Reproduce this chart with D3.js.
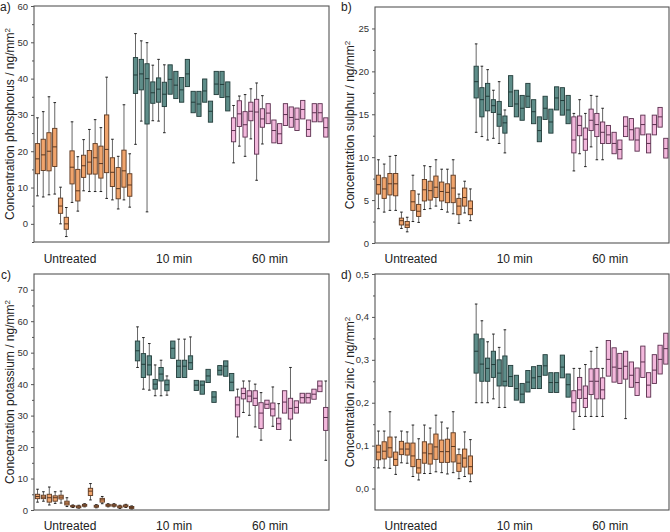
<!DOCTYPE html>
<html>
<head>
<meta charset="utf-8">
<script src="https://cdn.jsdelivr.net/npm/d3@7"></script>
<style>
  body { margin: 0; background: #fff; }
  svg { display: block; font-family: "Liberation Sans", Arial, sans-serif; }
</style>
</head>
<body>
<div class="chart"></div>
<script>
// grupos de tratamiento
var groups = ["Untreated", "10 min", "60 min"];

// a) fósforo (ng/mm2)
var aSizes = [17, 17, 17];
var aQ3 = [22.1,23.3,25.1,26.3,7.1,1.8,20.1,15.0,18.9,20.2,22.1,21.4,30.0,18.2,15.5,20.3,13.8,
  45.8,45.3,44.1,39.1,40.2,39.0,43.8,42.0,40.3,45.3,36.5,36.5,39.9,33.8,42.0,42.0,39.1,
  29.2,33.9,30.9,33.5,34.3,31.7,33.1,28.6,27.6,33.1,32.2,31.9,34.0,28.6,33.1,33.1,29.2];
var aMed = [17.9,19.0,20.0,21.2,4.9,0.0,15.6,9.1,16.0,17.0,18.2,16.6,20.5,14.2,9.7,14.6,10.7,
  41.0,41.3,40.0,36.1,37.1,35.7,39.8,38.2,36.9,41.3,33.5,33.0,36.6,31.0,38.5,38.4,35.0,
  25.7,30.3,27.3,31.0,30.8,28.9,30.5,25.7,24.8,30.1,29.3,28.8,31.5,26.0,30.6,30.6,26.5];
var aQ1 = [13.8,14.7,14.6,15.8,2.9,-1.5,11.0,6.3,12.8,13.7,13.7,12.6,14.1,10.3,6.9,10.1,7.6,
  35.9,36.9,27.5,33.2,33.5,32.3,35.7,34.5,33.5,37.8,30.6,29.6,33.5,28.0,35.6,34.8,31.1,
  22.6,26.8,23.9,28.4,19.2,26.6,27.6,22.3,22.1,27.1,26.6,25.7,28.9,24.1,28.1,28.1,23.9];
var aHi = [29.2,30.9,35.0,33.4,10.1,4.5,28.1,18.5,23.2,26.0,28.7,26.5,40.4,23.3,18.6,32.8,19.3,
  52.4,50.4,49.9,43.7,45.3,43.8,null,null,null,null,null,null,null,null,null,null,null,
  32.6,35.2,35.6,37.2,38.8,35.3,null,null,null,null,null,null,null,null,null,null,null];
var aLo = [7.7,7.4,8.0,8.2,0.0,-3.5,5.9,3.5,9.1,8.9,8.9,8.9,7.0,6.6,4.1,6.6,4.6,
  21.9,28.3,3.3,28.4,28.3,25.1,null,null,null,null,null,null,null,null,null,null,null,
  16.8,21.4,18.6,23.4,12.0,22.0,null,null,null,null,null,null,null,null,null,null,null];

// b) azufre (ng/mm2)
var bSizes = [17, 17, 17];
var bQ3 = [7.9,7.6,8.1,8.1,2.9,2.5,6.1,4.5,7.4,7.2,7.8,7.1,6.9,7.9,5.2,6.4,4.9,
  20.6,18.1,18.6,16.7,16.5,14.8,19.5,17.8,17.2,18.6,16.7,14.7,17.1,15.6,18.2,18.1,17.2,
  14.7,14.8,13.4,15.6,15.1,14.1,13.7,12.9,12.0,14.7,14.5,13.4,14.9,12.7,14.9,15.8,12.2];
var bMed = [6.8,6.3,6.9,6.9,2.6,2.1,4.8,3.7,6.2,6.1,6.5,6.0,5.9,6.4,4.3,5.3,4.0,
  18.8,16.7,17.1,16.0,15.0,14.0,17.6,16.2,15.7,17.1,15.3,13.1,15.7,14.1,16.9,16.6,15.5,
  12.0,13.7,12.1,14.3,13.8,12.9,12.6,11.6,10.9,13.6,13.2,12.0,13.8,11.6,13.8,14.7,11.0];
var bQ1 = [5.7,5.2,5.6,5.5,2.1,1.8,3.8,3.1,4.9,5.0,5.3,4.9,4.7,4.7,3.3,4.3,3.3,
  16.9,14.7,15.4,15.2,13.6,12.8,15.9,14.7,14.3,15.8,13.9,11.8,14.4,12.8,15.5,14.9,13.9,
  10.5,12.5,10.8,13.1,12.4,11.6,11.6,10.4,9.8,12.4,12.0,10.7,12.6,10.5,12.6,13.5,9.9];
var bHi = [9.7,9.2,10.1,10.2,3.6,3.0,7.9,5.7,9.0,8.9,9.7,8.6,8.6,9.7,5.7,7.2,6.3,
  23.2,20.6,20.2,17.8,18.8,15.5,null,null,null,null,null,null,null,null,null,null,null,
  15.1,16.7,15.1,17.2,17.1,15.7,null,null,null,null,null,null,null,null,null,null,null];
var bLo = [4.0,3.6,3.8,3.8,1.7,1.3,2.5,2.4,3.9,4.0,4.3,3.9,3.6,3.4,2.3,3.5,2.6,
  12.9,12.4,12.0,12.2,11.6,10.5,null,null,null,null,null,null,null,null,null,null,null,
  8.4,10.4,8.9,11.2,9.7,9.7,null,null,null,null,null,null,null,null,null,null,null];

// c) potasio (ng/mm2)
var cSizes = [17, 17, 16];
var cQ3 = [5.0,4.7,5.0,4.5,4.7,2.8,1.4,1.3,1.8,6.9,1.5,3.7,1.8,1.8,1.3,1.6,1.1,
  53.7,49.7,49.0,41.5,45.3,41.3,53.7,47.6,47.6,49.0,41.2,41.0,44.7,37.6,45.9,47.4,43.4,
  35.9,38.7,37.9,37.9,34.1,34.9,34.0,29.2,37.9,35.5,34.7,37.1,37.1,38.4,41.0,32.6];
var cMed = [4.3,4.1,3.9,3.9,4.1,2.2,1.2,1.0,1.5,6.0,1.2,3.2,1.5,1.5,1.0,1.3,0.8,
  50.6,46.3,46.1,40.0,43.2,39.8,51.4,45.7,45.7,46.8,39.7,39.7,42.6,35.9,44.4,45.7,40.6,
  33.4,37.0,36.2,35.5,30.8,33.6,32.1,27.4,34.3,32.3,32.6,35.7,35.7,36.8,39.4,29.4];
var cQ1 = [3.6,3.6,2.5,2.8,3.5,1.6,1.0,0.7,1.2,4.6,0.9,2.5,1.2,1.2,0.7,1.0,0.5,
  47.4,42.1,42.9,38.4,41.0,37.9,48.2,42.1,42.1,44.7,38.0,36.8,40.5,34.2,42.9,42.5,37.9,
  29.6,35.3,34.4,33.2,25.9,32.3,29.9,25.6,30.8,28.9,30.8,34.0,34.0,35.2,37.6,25.3];
var cHi = [6.6,5.8,7.3,5.8,6.0,3.9,1.6,1.5,2.0,8.4,1.7,4.3,2.0,2.0,1.5,1.8,1.3,
  58.2,54.8,52.9,46.1,47.6,42.6,null,54.3,54.3,55.0,null,null,null,null,null,null,null,
  38.4,41.0,41.0,40.0,37.3,null,39.1,33.8,null,45.3,null,null,null,null,null,41.0];
var cLo = [2.5,2.8,1.6,2.1,2.2,1.1,0.8,0.6,1.0,3.2,0.7,2.0,1.0,1.0,0.5,0.8,0.3,
  45.3,38.4,38.1,36.3,36.3,36.5,null,null,null,null,null,null,null,null,null,null,null,
  23.2,31.0,30.1,26.4,22.2,null,26.6,25.6,null,22.2,null,null,null,null,null,15.8];

// d) zinc (ng/mm2)
var dSizes = [17, 17, 17];
var dQ3 = [0.101,0.109,0.120,0.085,0.110,0.106,0.106,0.068,0.109,0.104,0.127,0.113,0.115,0.130,0.079,0.092,0.076,
  0.360,0.349,0.304,0.320,0.300,0.309,0.287,0.264,0.245,0.275,0.284,0.287,0.312,0.270,0.270,0.311,0.267,
  0.228,0.259,0.239,0.279,0.280,0.258,0.345,0.328,0.315,0.320,0.295,0.281,0.332,0.270,0.312,0.334,0.362];
var dMed = [0.085,0.087,0.095,0.068,0.092,0.092,0.076,0.048,0.083,0.081,0.097,0.086,0.086,0.098,0.059,0.071,0.051,
  0.320,0.290,0.280,0.289,0.269,0.250,0.261,0.233,0.220,0.248,0.258,0.261,0.286,0.247,0.247,0.283,0.242,
  0.200,0.230,0.210,0.250,0.250,0.230,0.301,0.283,0.280,0.285,0.264,0.247,0.295,0.241,0.276,0.301,0.326];
var dQ1 = [0.067,0.069,0.073,0.054,0.079,0.078,0.051,0.036,0.059,0.057,0.068,0.061,0.061,0.062,0.040,0.050,0.034,
  0.269,0.250,0.250,0.259,0.239,0.239,0.238,0.206,0.200,0.225,0.233,0.233,0.264,0.224,0.224,0.258,0.213,
  0.179,0.210,0.189,0.219,0.209,0.209,0.262,0.248,0.245,0.255,0.236,0.217,0.259,0.213,0.245,0.267,0.290];
var dHi = [0.134,0.134,0.179,0.120,0.134,0.132,0.148,0.116,0.148,0.141,0.171,0.155,0.141,0.179,0.092,0.132,0.114,
  0.430,0.391,0.342,0.360,0.329,0.370,null,null,null,null,null,null,null,null,null,null,null,
  0.280,0.280,0.289,0.320,0.329,0.280,null,null,null,null,null,null,null,null,null,null,null];
var dLo = [0.048,0.048,0.047,0.033,0.060,0.059,0.028,0.020,0.035,0.035,0.039,0.037,0.034,0.037,0.023,0.028,0.016,
  0.200,0.200,0.200,0.209,0.189,0.189,null,null,null,null,null,null,null,null,null,null,null,
  0.138,0.168,0.168,0.168,0.168,0.168,null,null,null,0.163,null,null,null,null,null,null,null];

// Colores por grupo (relleno y borde)
var fills = ["#f0a46c", "#5e8d89", "#f3b8dc"];
var strokes = ["#5a3720", "#223c3a", "#5a2f4e"];

var svg = d3.select(".chart").append("svg")
    .attr("width", 670)
    .attr("height", 532);

// Paneles
var panels = [
  { key: "a", name: "phosphorus", left: 34, right: 329, top: 6, bottom: 242, domain: [-5, 60],
    major: d3.range(0, 61, 10), minor: d3.range(-5, 60, 10), fmt: d3.format("d"),
    sizes: aSizes, q1: aQ1, med: aMed, q3: aQ3, lo: aLo, hi: aHi,
    labelX: 14, letterX: 0, letterY: 11, groupY: 263 },
  { key: "b", name: "sulphur", left: 375, right: 669, top: 7, bottom: 243, domain: [0, 27.5],
    major: d3.range(0, 26, 5), minor: d3.range(2.5, 27.5, 5), fmt: d3.format("d"),
    sizes: bSizes, q1: bQ1, med: bMed, q3: bQ3, lo: bLo, hi: bHi,
    labelX: 354, letterX: 341, letterY: 11, groupY: 263 },
  { key: "c", name: "potassium", left: 34, right: 329, top: 274, bottom: 510, domain: [0, 75],
    major: d3.range(0, 71, 10), minor: d3.range(5, 75, 10), fmt: d3.format("d"),
    sizes: cSizes, q1: cQ1, med: cMed, q3: cQ3, lo: cLo, hi: cHi,
    labelX: 14, letterX: 1, letterY: 279, groupY: 530 },
  { key: "d", name: "zinc", left: 375, right: 669, top: 274, bottom: 510, domain: [-0.05, 0.5],
    major: d3.range(0, 0.51, 0.1), minor: d3.range(0.05, 0.5, 0.1),
    fmt: function(v) { return d3.format(".1f")(v).replace(".", ","); },
    sizes: dSizes, q1: dQ1, med: dMed, q3: dQ3, lo: dLo, hi: dHi,
    labelX: 354, letterX: 341, letterY: 279, groupY: 530 }
];

// posición relativa de las etiquetas de grupo
var labelFrac = [0.122, 0.475, 0.80];

panels.forEach(function(p) {
  var g = svg.append("g");
  var n = p.q1.length;
  var x = d3.scaleLinear().domain([-0.6, n - 0.45]).range([p.left, p.right]);
  var y = d3.scaleLinear().domain(p.domain).range([p.bottom, p.top]);
  var step = x(1) - x(0);
  var bw = step * 0.74;

  var grp = [];
  p.sizes.forEach(function(s, k) { for (var i = 0; i < s; i++) grp.push(k); });

  var boxes = d3.range(n).map(function(i) {
    return { i: i, g: grp[i], q1: p.q1[i], med: p.med[i], q3: p.q3[i],
             lo: p.lo[i] == null ? p.q1[i] : p.lo[i],
             hi: p.hi[i] == null ? p.q3[i] : p.hi[i] };
  });

  svg.append("defs").append("clipPath").attr("id", "clip-" + p.key)
    .append("rect")
    .attr("x", p.left).attr("y", p.top)
    .attr("width", p.right - p.left).attr("height", p.bottom - p.top);

  var plot = g.append("g").attr("clip-path", "url(#clip-" + p.key + ")");

  // bigotes
  plot.selectAll(".wh").data(boxes.filter(function(d) { return d.hi > d.q3; }))
    .enter().append("line")
    .attr("x1", function(d) { return x(d.i); }).attr("x2", function(d) { return x(d.i); })
    .attr("y1", function(d) { return y(d.hi); }).attr("y2", function(d) { return y(d.q3); })
    .attr("stroke", "#666").attr("stroke-width", 1);
  plot.selectAll(".wl").data(boxes.filter(function(d) { return d.lo < d.q1; }))
    .enter().append("line")
    .attr("x1", function(d) { return x(d.i); }).attr("x2", function(d) { return x(d.i); })
    .attr("y1", function(d) { return y(d.q1); }).attr("y2", function(d) { return y(d.lo); })
    .attr("stroke", "#666").attr("stroke-width", 1);

  // remates de bigotes
  plot.selectAll(".cap-h").data(boxes.filter(function(d) { return d.hi > d.q3; }))
    .enter().append("line")
    .attr("x1", function(d) { return x(d.i) - 1.3; }).attr("x2", function(d) { return x(d.i) + 1.3; })
    .attr("y1", function(d) { return y(d.hi); }).attr("y2", function(d) { return y(d.hi); })
    .attr("stroke", "#222").attr("stroke-width", 1);
  plot.selectAll(".cap-l").data(boxes.filter(function(d) { return d.lo < d.q1; }))
    .enter().append("line")
    .attr("x1", function(d) { return x(d.i) - 1.3; }).attr("x2", function(d) { return x(d.i) + 1.3; })
    .attr("y1", function(d) { return y(d.lo); }).attr("y2", function(d) { return y(d.lo); })
    .attr("stroke", "#222").attr("stroke-width", 1);

  // cajas
  plot.selectAll(".box").data(boxes)
    .enter().append("rect")
    .attr("x", function(d) { return x(d.i) - bw / 2; })
    .attr("y", function(d) { return y(d.q3); })
    .attr("width", bw)
    .attr("height", function(d) { return Math.max(0.5, y(d.q1) - y(d.q3)); })
    .attr("fill", function(d) { return fills[d.g]; })
    .attr("stroke", function(d) { return strokes[d.g]; })
    .attr("stroke-width", 0.9);

  // medianas
  plot.selectAll(".med").data(boxes)
    .enter().append("line")
    .attr("x1", function(d) { return x(d.i) - bw / 2; })
    .attr("x2", function(d) { return x(d.i) + bw / 2; })
    .attr("y1", function(d) { return y(d.med); })
    .attr("y2", function(d) { return y(d.med); })
    .attr("stroke", function(d) { return strokes[d.g]; })
    .attr("stroke-width", 1);

  // marco
  g.append("rect")
    .attr("x", p.left).attr("y", p.top)
    .attr("width", p.right - p.left).attr("height", p.bottom - p.top)
    .attr("fill", "none").attr("stroke", "#555").attr("stroke-width", 1.1);

  // eje y
  var ax = g.append("g").attr("transform", "translate(" + p.left + ",0)")
    .call(d3.axisLeft(y).tickValues(p.major).tickSize(3).tickPadding(3).tickFormat(p.fmt));
  ax.select(".domain").remove();
  ax.selectAll("line").attr("stroke", "#555");
  ax.selectAll("text").attr("fill", "#333").style("font-size", "9.5px")
    .style("font-family", "'Liberation Sans', Arial, sans-serif");

  var axm = g.append("g").attr("transform", "translate(" + p.left + ",0)")
    .call(d3.axisLeft(y).tickValues(p.minor).tickSize(2).tickFormat(""));
  axm.select(".domain").remove();
  axm.selectAll("line").attr("stroke", "#555");

  // etiqueta del eje y
  var lab = g.append("text")
    .attr("transform", "translate(" + p.labelX + "," + ((p.top + p.bottom) / 2) + ") rotate(-90)")
    .attr("text-anchor", "middle")
    .attr("fill", "#222")
    .style("font-size", "12px");
  lab.append("tspan").text("Concentration " + p.name + " / ng/mm");
  lab.append("tspan").attr("baseline-shift", "super").style("font-size", "8px").text("2");

  // etiquetas de grupo
  g.selectAll(".grp").data(groups)
    .enter().append("text")
    .attr("x", function(d, k) { return p.left + labelFrac[k] * (p.right - p.left); })
    .attr("y", p.groupY)
    .attr("text-anchor", "middle")
    .attr("fill", "#222")
    .style("font-size", "12px")
    .text(function(d) { return d; });

  // letra del panel
  g.append("text")
    .attr("x", p.letterX).attr("y", p.letterY)
    .attr("fill", "#222")
    .style("font-size", "12px")
    .text(p.key + ")");
});
</script>
</body>
</html>
